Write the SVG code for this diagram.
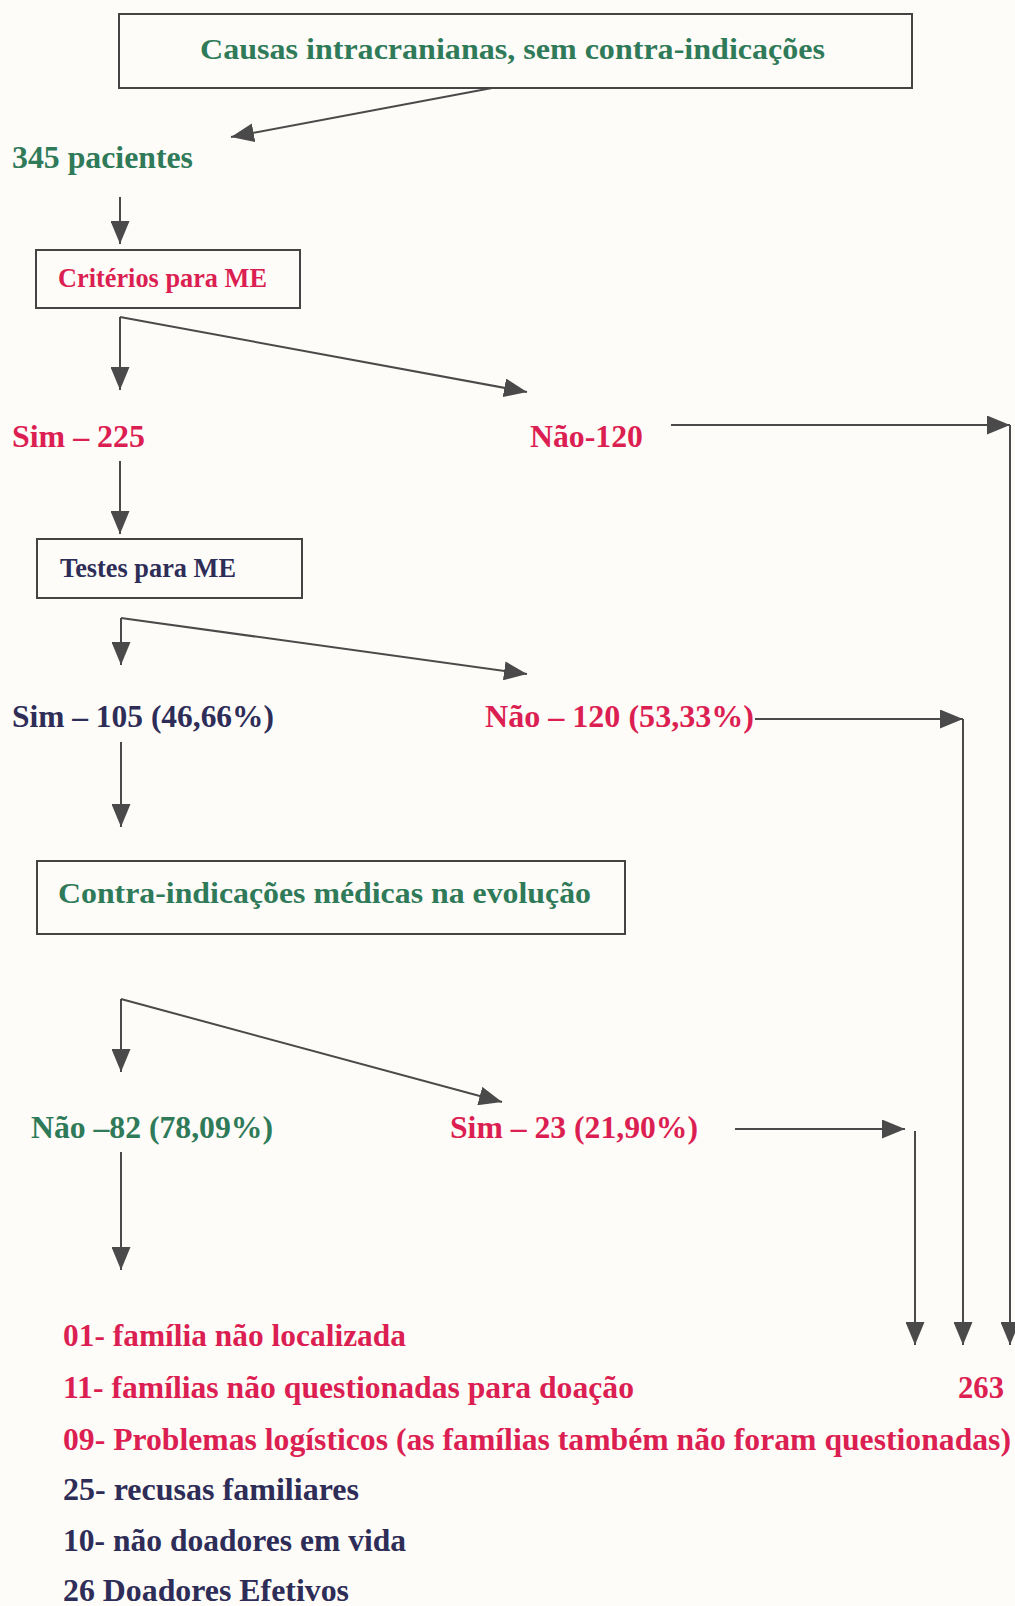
<svg xmlns="http://www.w3.org/2000/svg" width="1015" height="1606" viewBox="0 0 1015 1606">
<style>
.t{font-family:"Liberation Serif","Times New Roman",serif;font-weight:bold;}
.g{fill:#2f7a58;}
.r{fill:#dc1f52;}
.n{fill:#2e2d58;}
.box{fill:none;stroke:#444;stroke-width:2;}
.c{fill:none;stroke:#4a4a4a;stroke-width:2;}
</style>
<defs>
<marker id="ah" viewBox="0 0 10 10" refX="10" refY="5" markerWidth="23" markerHeight="19" orient="auto" markerUnits="userSpaceOnUse" preserveAspectRatio="none">
<path d="M0,0 L10,5 L0,10 z" fill="#4a4a4a"/>
</marker>
</defs>
<rect width="1015" height="1606" fill="#fefcf8"/>

<g id="connectors">
<line class="c" x1="492" y1="88" x2="231" y2="137" marker-end="url(#ah)"/>
<line class="c" x1="120" y1="197" x2="120" y2="244" marker-end="url(#ah)"/>
<line class="c" x1="120" y1="317" x2="120" y2="390" marker-end="url(#ah)"/>
<line class="c" x1="120" y1="317" x2="527" y2="392" marker-end="url(#ah)"/>
<line class="c" x1="671" y1="425" x2="1010" y2="425" marker-end="url(#ah)"/>
<line class="c" x1="1010" y1="425" x2="1010" y2="1345" marker-end="url(#ah)"/>
<line class="c" x1="120" y1="461" x2="120" y2="534" marker-end="url(#ah)"/>
<line class="c" x1="121" y1="618" x2="121" y2="665" marker-end="url(#ah)"/>
<line class="c" x1="121" y1="618" x2="527" y2="674" marker-end="url(#ah)"/>
<line class="c" x1="755" y1="719" x2="963" y2="719" marker-end="url(#ah)"/>
<line class="c" x1="963" y1="719" x2="963" y2="1345" marker-end="url(#ah)"/>
<line class="c" x1="121" y1="742" x2="121" y2="827" marker-end="url(#ah)"/>
<line class="c" x1="121" y1="999" x2="121" y2="1072" marker-end="url(#ah)"/>
<line class="c" x1="121" y1="999" x2="502" y2="1102" marker-end="url(#ah)"/>
<line class="c" x1="735" y1="1129" x2="905" y2="1129" marker-end="url(#ah)"/>
<line class="c" x1="915" y1="1131" x2="915" y2="1345" marker-end="url(#ah)"/>
<line class="c" x1="121" y1="1152" x2="121" y2="1270" marker-end="url(#ah)"/>
</g>

<g id="n-causas">
<rect class="box" x="119" y="14" width="793" height="74"/>
<text class="t g" x="200" y="59" font-size="30" textLength="625" lengthAdjust="spacingAndGlyphs">Causas intracranianas, sem contra-indicações</text>
</g>
<g id="n-345"><text class="t g" x="12" y="168" font-size="31" textLength="181" lengthAdjust="spacingAndGlyphs">345 pacientes</text></g>
<g id="n-criterios">
<rect class="box" x="36" y="250" width="264" height="58"/>
<text class="t r" x="58" y="287" font-size="27" textLength="209" lengthAdjust="spacingAndGlyphs">Critérios para ME</text>
</g>
<g id="n-sim225"><text class="t r" x="12" y="447" font-size="32" textLength="133" lengthAdjust="spacingAndGlyphs">Sim – 225</text></g>
<g id="n-nao120"><text class="t r" x="530" y="447" font-size="32" textLength="113" lengthAdjust="spacingAndGlyphs">Não-120</text></g>
<g id="n-testes">
<rect class="box" x="37" y="539" width="265" height="59"/>
<text class="t n" x="60" y="577" font-size="27" textLength="176" lengthAdjust="spacingAndGlyphs">Testes para ME</text>
</g>
<g id="n-sim105"><text class="t n" x="12" y="727" font-size="32" textLength="262" lengthAdjust="spacingAndGlyphs">Sim – 105 (46,66%)</text></g>
<g id="n-nao120b"><text class="t r" x="485" y="727" font-size="32" textLength="269" lengthAdjust="spacingAndGlyphs">Não – 120 (53,33%)</text></g>
<g id="n-contra">
<rect class="box" x="37" y="861" width="588" height="73"/>
<text class="t g" x="58" y="903" font-size="30" textLength="533" lengthAdjust="spacingAndGlyphs">Contra-indicações médicas na evolução</text>
</g>
<g id="n-nao82"><text class="t g" x="31" y="1138" font-size="31" textLength="242" lengthAdjust="spacingAndGlyphs">Não –82 (78,09%)</text></g>
<g id="n-sim23"><text class="t r" x="450" y="1138" font-size="31" textLength="248" lengthAdjust="spacingAndGlyphs">Sim – 23 (21,90%)</text></g>
<g id="n-263"><text class="t r" x="958" y="1398" font-size="31" textLength="46" lengthAdjust="spacingAndGlyphs">263</text></g>
<g id="n-resultados">
<text class="t r" x="63" y="1346" font-size="31" textLength="343" lengthAdjust="spacingAndGlyphs">01- família não localizada</text>
<text class="t r" x="63" y="1398" font-size="31" textLength="571" lengthAdjust="spacingAndGlyphs">11- famílias não questionadas para doação</text>
<text class="t r" x="63" y="1450" font-size="31" textLength="948" lengthAdjust="spacingAndGlyphs">09- Problemas logísticos (as famílias também não foram questionadas)</text>
<text class="t n" x="63" y="1500" font-size="31" textLength="296" lengthAdjust="spacingAndGlyphs">25- recusas familiares</text>
<text class="t n" x="63" y="1551" font-size="31" textLength="343" lengthAdjust="spacingAndGlyphs">10- não doadores em vida</text>
<text class="t n" x="63" y="1601" font-size="31" textLength="286" lengthAdjust="spacingAndGlyphs">26 Doadores Efetivos</text>
</g>
</svg>
